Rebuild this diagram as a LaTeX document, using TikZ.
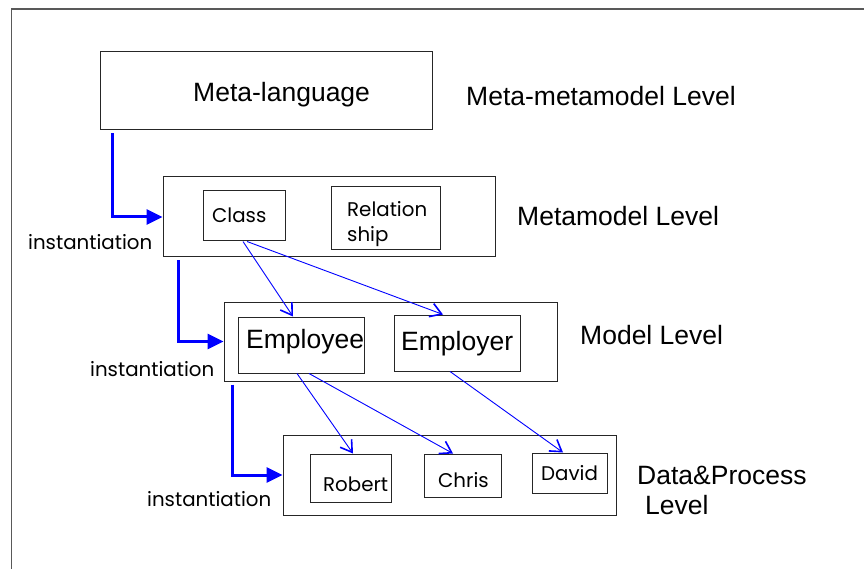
\documentclass[tikz,border=0pt]{standalone}
\usepackage{fontspec}
\setmainfont{Liberation Sans}
\newfontfamily\gothic{Poppins}
\usetikzlibrary{arrows.meta,calc}
\begin{document}
\begin{tikzpicture}[x=1pt,y=-1pt,
  box/.style={draw=black!85,line width=1pt,inner sep=0pt},
  big/.style={font=\fontsize{26.5}{30}\selectfont},
  goth/.style={font=\gothic\fontsize{19.8}{22}\selectfont},
  lbl/.style={anchor=base west,inner sep=0pt},
  inst/.style={draw=blue,line width=3pt,-{Triangle[length=16pt,width=15pt]},shorten <=3pt},
  thin/.style={draw=blue,line width=0.9pt,-{Straight Barb[length=11pt,width=14pt,line width=1.6pt]}}]
\useasboundingbox (0,0) rectangle (864,569);
\draw[black!65,line width=1.5pt] (11.5,569) -- (11.5,9) -- (864,9);
% boxes
\node[box,minimum width=332pt,minimum height=78pt] (meta) at (266,91) {};
\node[box,minimum width=332pt,minimum height=80pt] (mm) at (329,217) {};
\node[box,minimum width=82pt,minimum height=50pt] (class) at (244,216) {};
\node[box,minimum width=109pt,minimum height=63pt] (rel) at (385.5,218.5) {};
\node[box,minimum width=333pt,minimum height=79pt] (model) at (390.5,341.5) {};
\node[box,minimum width=126pt,minimum height=56pt] (emp) at (301,345) {};
\node[box,minimum width=126pt,minimum height=56pt] (empr) at (457,343) {};
\node[box,minimum width=333pt,minimum height=80pt] (data) at (449.5,475) {};
\node[box,minimum width=81pt,minimum height=48pt] (rob) at (350.5,478) {};
\node[box,minimum width=77pt,minimum height=43pt] (chr) at (462.5,475.5) {};
\node[box,minimum width=75pt,minimum height=40pt] (dav) at (569.5,473) {};
% texts
\node[lbl,big] (tmeta) at (193,102) {Meta-language};
\node[lbl,big] (tl1) at (466,106) {Meta-metamodel Level};
\node[lbl,big] (tl2) at (517,226) {Metamodel Level};
\node[lbl,big] (tl3) at (580,344) {Model Level};
\node[lbl,big] (tl4) at (637,484) {Data\&Process};
\node[lbl,big] (tl5) at (645,514) {Level};
\node[lbl,big] (temp) at (246,348) {Employee};
\node[lbl,big] (tempr) at (401,350) {Employer};
\node[lbl,goth] (tclass) at (212,223) {Class};
\node[lbl,goth] (trel1) at (347,217) {Relation};
\node[lbl,goth] (trel2) at (347,242) {ship};
\node[lbl,goth] (trob) at (323,491) {Robert};
\node[lbl,goth] (tchr) at (438,487) {Chris};
\node[lbl,goth] (tdav) at (541,480) {David};
\node[lbl,goth] (i1) at (28,250) {instantiation};
\node[lbl,goth] (i2) at (90,376) {instantiation};
\node[lbl,goth] (i3) at (147,506) {instantiation};
% instantiation arrows
\draw[inst] ([xshift=13pt]meta.south west) |- (mm.west);
\draw[inst] ([xshift=16pt]mm.south west) |- (model.west);
\draw[inst] ([xshift=9pt]model.south west) |- (data.west);
% thin arrows
\draw[thin] ([xshift=-1pt]class.south) -- ([xshift=-8pt]emp.north);
\draw[thin] ([xshift=3pt]class.south) -- ([xshift=-14pt]empr.north);
\draw[thin] ([xshift=-4pt]emp.south) -- ([xshift=2.5pt]rob.north);
\draw[thin] ([xshift=8pt]emp.south) -- ([xshift=-9.5pt]chr.north);
\draw[thin] ([xshift=-7pt]empr.south) -- ([xshift=-6.5pt]dav.north);
\end{tikzpicture}
\end{document}
